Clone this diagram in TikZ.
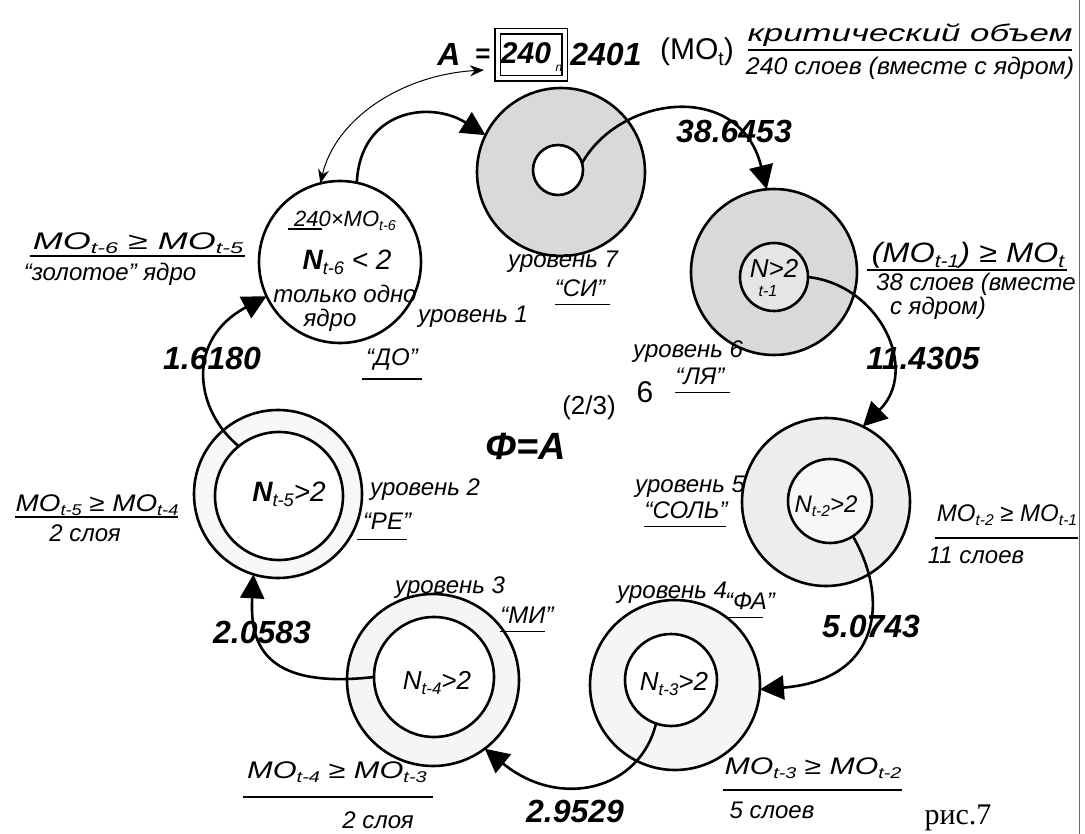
\documentclass[tikz,border=0pt]{standalone}
\usepackage{fontspec}
\setmainfont{Liberation Sans}
\newfontfamily\seriffam{Liberation Serif}
\usepackage{graphicx}
\usetikzlibrary{arrows.meta}
\newcommand\fs[1]{\fontsize{#1}{#1}\selectfont}
\newcommand\sbx[1]{\raisebox{-0.35ex}{\scalebox{0.65}{#1}}}
\newcommand\hx[2]{\scalebox{#1}[1]{#2}}
\begin{document}
\begin{tikzpicture}[x=1pt,y=-1pt,
  ring/.style={circle, draw, line width=2.6pt, inner sep=0pt, outer sep=0pt},
  conn/.style={line width=2.6pt, -{Triangle[length=24pt,width=24pt]}},
  thinarr/.style={line width=1pt, {Stealth[length=14pt,width=11pt]}-{Stealth[length=14pt,width=11pt]}},
  hand/.style={font=\fs{24}\itshape, inner sep=0pt},
  val/.style={font=\fs{32}\bfseries\itshape, inner sep=0pt},
  uline/.style={line width=1.2pt}]
\useasboundingbox (0,0) rectangle (1085,834);
\draw[black!60, line width=1pt] (1079,0) -- (1079,834);

% circles
\node[ring, minimum size=162pt, fill=white] (c1) at (340,262) {};
\node[ring, minimum size=168pt, fill=black!15] (c7o) at (561,172) {};
\node[ring, minimum size=50pt, fill=white] (c7i) at (558,170) {};
\node[ring, minimum size=166pt, fill=black!15] (c6o) at (774,272) {};
\node[ring, minimum size=68pt, fill=black!10] (c6i) at (774,277) {};
\node[ring, minimum size=168pt, fill=black!7] (c5o) at (826,502) {};
\node[ring, minimum size=84pt, fill=black!3] (c5i) at (830,501) {};
\node[ring, minimum size=170pt, fill=black!4] (c4o) at (675,685) {};
\node[ring, minimum size=92pt, fill=white] (c4i) at (671,680) {};
\node[ring, minimum size=172pt, fill=black!4] (c3o) at (433,680) {};
\node[ring, minimum size=120pt, fill=white] (c3i) at (434,677) {};
\node[ring, minimum size=168pt, fill=black!3] (c2o) at (278,494) {};
\node[ring, minimum size=128pt, fill=white] (c2i) at (279,496) {};

% connectors
\draw[conn] (c7i.16) .. controls (620,95) and (740,80) .. (c6o.95);
\draw[conn] (c6i.0) .. controls (880,285) and (920,370) .. (c5o.64);
\draw[conn] (c5i.-57) .. controls (890,600) and (880,680) .. (c4o.-3);
\draw[conn] (c4i.251) .. controls (640,790) and (560,810) .. (c3o.-53);
\draw[conn] (c3i.180) .. controls (260,690) and (250,640) .. (c2o.253);
\draw[conn] (c2i.129) .. controls (195,410) and (185,340) .. (c1.205);
\draw[conn] (c1.78) .. controls (360,110) and (430,100) .. (c7o.154);
\coordinate (aend) at (484,70);
\draw[thinarr] (c1.104) .. controls (335,120) and (400,75) .. (aend);

% top formula
\node[val] (A) at (449,54) {A};
\node[font=\fs{26}\bfseries, inner sep=0pt] (eq) at (483,56) {=};
\node[draw, double, double distance=4pt, line width=1.2pt, minimum width=67pt, minimum height=47pt, inner sep=0pt] (box) at (531,55) {};
\node[val, font=\fs{30}\bfseries\itshape] (b240) at (526,53) {240};
\node[font=\fs{12}\itshape, inner sep=0pt] (bn) at (559,68) {n};
\node[val] (n2401) at (606,54) {2401};
\node[font=\fs{30}, inner sep=0pt] (mot) at (697,52) {(MO\sbx{t})};
\node[hand] (krit) at (910,35) {\hx{1.45}{критический объем}};
\node[hand] (s240) at (910,68) {\hx{1.04}{240 слоев (вместе с ядром)}};
\draw[uline] (748,50) -- (1072,50);

% values
\node[val] (v1) at (734,131) {38.6453};
\node[val] (v2) at (923,358) {11.4305};
\node[val] (v3) at (871,626) {5.0743};
\node[val] (v4) at (575,811) {2.9529};
\node[val] (v5) at (262,632) {2.0583};
\node[val] (v6) at (212,358) {1.6180};

% center formula
\node[font=\fs{38}\bfseries\itshape, inner sep=0pt] (phi) at (526,446) {Φ=A};
\node[font=\fs{26}, inner sep=0pt] (pw) at (589,408) {(2/3)};
\node[font=\fs{30}, inner sep=0pt] (p6) at (645,392) {6};

% circle 1 texts
\node[hand, font=\fs{22}\itshape] (c1a) at (345,221) {240×MO\sbx{t-6}};
\draw[uline] (288,229) -- (322,229);
\node[hand, font=\fs{28}\itshape] (c1b) at (347,262) {{\bfseries N}\sbx{t-6} < 2};
\node[hand] (c1c) at (345,294) {только одно};
\node[hand] (c1d) at (330,320) {ядро};

% inner texts
\node[hand, font=\fs{26}\itshape] (c6t) at (774,268) {N>2};
\node[hand, font=\fs{16}\itshape] (c6s) at (768,291) {t-1};
\node[hand, font=\fs{24}\itshape] (c5t) at (826,506) {N\sbx{t-2}>2};
\node[hand, font=\fs{26}\itshape] (c4t) at (674,684) {N\sbx{t-3}>2};
\node[hand, font=\fs{26}\itshape] (c3t) at (437,683) {N\sbx{t-4}>2};
\node[hand, font=\fs{28}\itshape] (c2t) at (289,494) {{\bfseries N}\sbx{t-5}>2};

% level labels
\node[hand] (l1) at (473,317) {уровень 1};
\node[hand] (l1n) at (392,360) {“ДО”};
\draw[uline] (l1n.south west) ++(-4,8) -- ++(60,0);
\node[hand] (l7) at (563,262) {уровень 7};
\node[hand] (l7n) at (580,288) {“СИ”};
\draw[uline] (l7n.south west) ++(0,8) -- ++(55,0);
\node[hand] (l6) at (688,352) {уровень 6};
\node[hand] (l6n) at (700,376) {“ЛЯ”};
\draw[uline] (l6n.south west) ++(0,8) -- ++(55,0);
\node[hand] (l5) at (690,487) {уровень 5};
\node[hand] (l5n) at (686,510) {“СОЛЬ”};
\draw[uline] (l5n.south west) ++(0,8) -- ++(82,0);
\node[hand] (l4) at (672,593) {уровень 4};
\node[hand] (l4n) at (750,601) {“ФА”};
\draw[uline] (l4n.south west) ++(0,8) -- ++(38,0);
\node[hand] (l3) at (450,588) {уровень 3};
\node[hand] (l3n) at (527,615) {“МИ”};
\draw[uline] (l3n.south west) ++(0,8) -- ++(45,0);
\node[hand] (l2) at (425,490) {уровень 2};
\node[hand] (l2n) at (387,521) {“РЕ”};
\draw[uline] (l2n.south west) ++(-6,10) -- ++(50,0);

% side relations
\node[hand] (r6) at (138,243) {\hx{1.5}{MO\sbx{t-6} ≥ MO\sbx{t-5}}};
\draw[uline] (30,256) -- (245,256);
\node[hand] (r6b) at (110,274) {“золотое” ядро};
\node[hand] (r5) at (97,505) {\hx{1.16}{MO\sbx{t-5} ≥ MO\sbx{t-4}}};
\draw[uline] (15,517) -- (178,517);
\node[hand] (r5b) at (85,533) {2 слоя};
\node[hand] (r4) at (337,772) {\hx{1.28}{MO\sbx{t-4} ≥ MO\sbx{t-3}}};
\draw[uline] (243,797) -- (433,797);
\node[hand] (r4b) at (378,820) {2 слоя};
\node[hand] (r3) at (813,768) {\hx{1.26}{MO\sbx{t-3} ≥ MO\sbx{t-2}}};
\draw[uline] (723,790) -- (902,790);
\node[hand] (r3b) at (772,810) {5 слоев};
\node[hand] (r2) at (1007,515) {MO\sbx{t-2} ≥ MO\sbx{t-1}};
\draw[uline] (935,538) -- (1078,538);
\node[hand] (r2b) at (976,555) {11 слоев};
\node[hand, font=\fs{28}\itshape] (r1) at (968,255) {\hx{1.16}{(MO\sbx{t-1}) ≥ MO\sbx{t}}};
\draw[uline] (867,270) -- (1067,270);
\node[hand] (r1b) at (976,284) {38 слоев (вместе};
\node[hand] (r1c) at (938,308) {с ядром)};

\node[font=\fs{30}\seriffam, inner sep=0pt] (fig) at (958,818) {рис.7};
\end{tikzpicture}
\end{document}
